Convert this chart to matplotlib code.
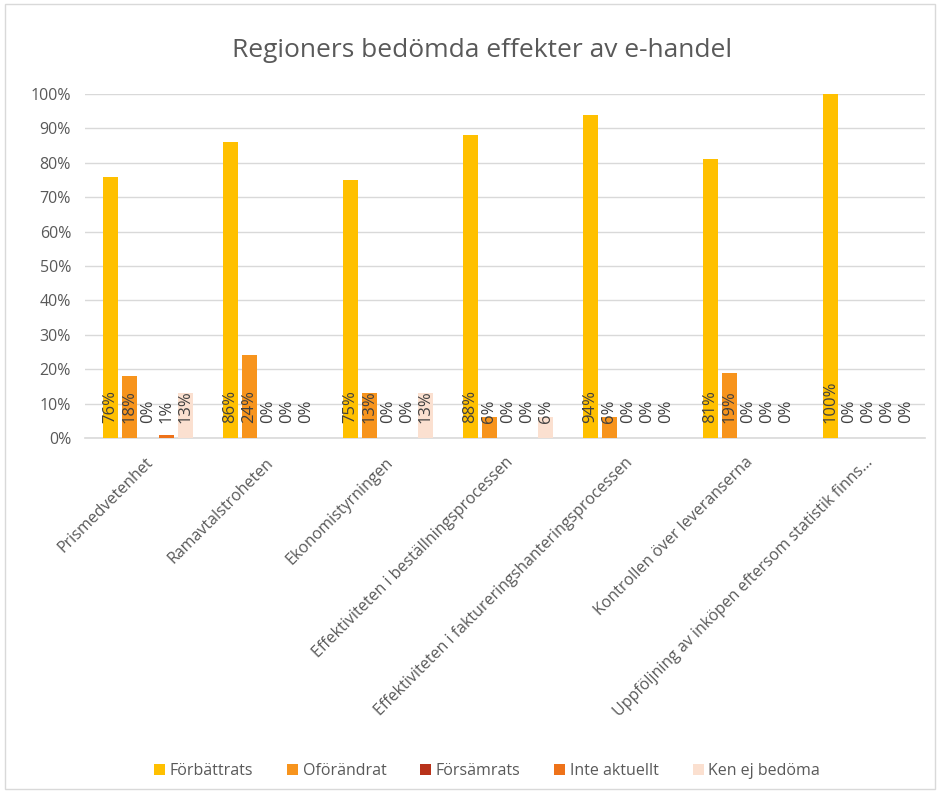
import numpy as np
import matplotlib
matplotlib.use("Agg")
import matplotlib.pyplot as plt
from matplotlib.patches import Rectangle

categories = ["Prismedvetenhet", "Ramavtalstroheten", "Ekonomistyrningen",
              "Effektiviteten i beställningsprocessen",
              "Effektiviteten i faktureringshanteringsprocessen",
              "Kontrollen över leveranserna",
              "Uppföljning av inköpen eftersom statistik finns..."]
series_names = ["Förbättrats", "Oförändrat", "Försämrats", "Inte aktuellt", "Ken ej bedöma"]
forbattrats = [76, 86, 75, 88, 94, 81, 100]
oforandrat = [18, 24, 13, 6, 6, 19, 0]
forsamrats = [0, 0, 0, 0, 0, 0, 0]
inte_aktuellt = [1, 0, 0, 0, 0, 0, 0]
ken_ej = [13, 0, 13, 6, 0, 0, 0]
colors = ["#FFC000", "#F7941D", "#B8321A", "#EE7219", "#FBE0D0"]

plt.rcParams['font.family'] = ['Open Sans', 'DejaVu Sans']
fig = plt.figure(figsize=(9.4, 7.93), dpi=100)
fig.patches.append(Rectangle((0.005, 0.005), 0.99, 0.99, transform=fig.transFigure,
                             fill=False, edgecolor="#D9D9D9", linewidth=1))
ax = fig.add_axes([0.0904, 0.4477, 0.8936, 0.4338])

x = np.arange(len(categories))
all_vals = [forbattrats, oforandrat, forsamrats, inte_aktuellt, ken_ej]
stride = 0.157
width = 0.125
for j, (vals, name, c) in enumerate(zip(all_vals, series_names, colors)):
    pos = x + 0.025 + (j - 2) * stride
    ax.bar(pos, vals, width, color=c, label=name, zorder=3)
    for p, v in zip(pos, vals):
        ax.annotate(f"{v}%", (p, 0), xytext=(0, 11), textcoords="offset points",
                    rotation=90, ha="center", va="bottom", fontsize=12,
                    color="#404040", zorder=4)

ax.set_xlim(-0.5, len(categories) - 0.5)
ax.set_ylim(0, 100)
ax.set_yticks(range(0, 101, 10))
ax.set_yticklabels([f"{t}%" for t in range(0, 101, 10)], fontsize=11.5, color="#595959")
ax.set_xticks(x)
ax.set_xticklabels(categories, rotation=45, ha="right", va="top", rotation_mode="anchor",
                   fontsize=11.5, color="#595959")
ax.tick_params(axis="y", length=0, pad=10)
ax.tick_params(axis="x", length=0, pad=12)
ax.grid(axis="y", color="#D9D9D9", linewidth=1, zorder=0)
for s in ["top", "right", "left"]:
    ax.spines[s].set_visible(False)
ax.spines["bottom"].set_color("#D9D9D9")
ax.spines["bottom"].set_linewidth(1.2)

fig.suptitle("Regioners bedömda effekter av e-handel", x=0.513, y=0.952, fontsize=19,
             color="#595959")
fig.legend(loc="center", bbox_to_anchor=(0.518, 0.028), ncol=5, frameon=False,
           fontsize=11.5, handlelength=0.7, handleheight=0.7, handletextpad=0.3,
           columnspacing=2.1, labelcolor="#595959")

fig.savefig("out.png", dpi=100)
